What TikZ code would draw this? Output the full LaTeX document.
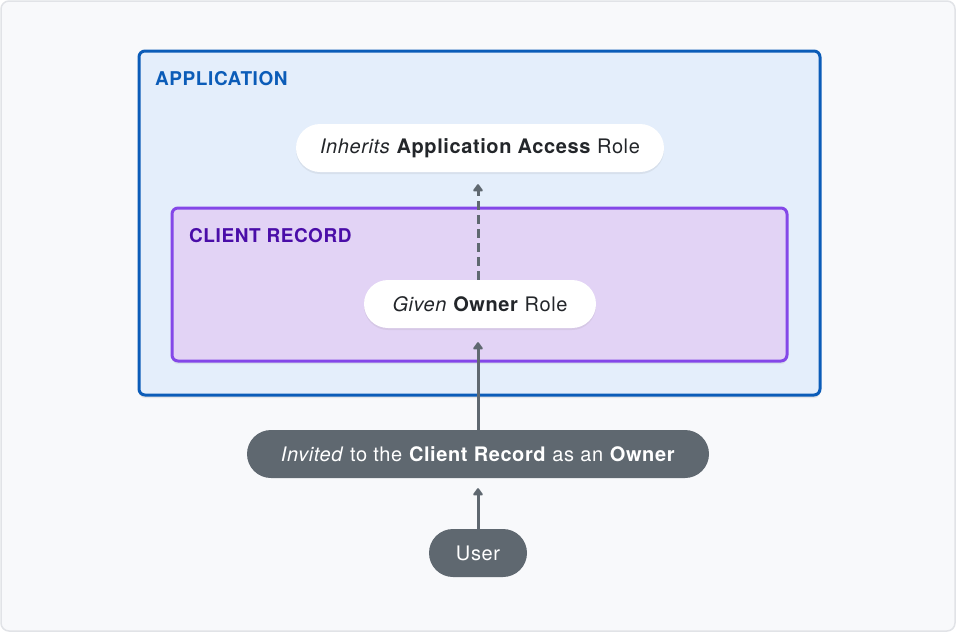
\documentclass[tikz,border=0pt]{standalone}
\usepackage{fontspec}
\setmainfont{TeX Gyre Heros}[LetterSpace=3]
\usetikzlibrary{arrows.meta,shadows}
\definecolor{pagebg}{HTML}{F8F9FB}
\definecolor{pageline}{HTML}{E1E3E7}
\definecolor{appline}{HTML}{0B5CB8}
\definecolor{appfill}{HTML}{E4EEFB}
\definecolor{recline}{HTML}{8447E8}
\definecolor{recfill}{HTML}{E2D3F5}
\definecolor{rectext}{HTML}{4A0DA8}
\definecolor{slate}{HTML}{5F6870}
\definecolor{ink}{HTML}{23262A}
\begin{document}
\begin{tikzpicture}[x=1pt,y=-1pt,
  font=\fontsize{20}{24}\selectfont,
  pill/.style={rectangle,rounded corners=24pt,minimum height=48pt,inner sep=0pt},
  lightpill/.style={pill,fill=white,text=ink,drop shadow={opacity=0.12,shadow xshift=0pt,shadow yshift=-2pt}},
  darkpill/.style={pill,fill=slate,text=white},
  boxlabel/.style={anchor=base west,inner sep=0pt,font=\fontsize{19}{22}\selectfont\bfseries},
  link/.style={slate,line width=3pt,-{Triangle[length=8pt,width=11pt,round]}}]
\useasboundingbox (0,0) rectangle (956,632);
\draw[pageline,fill=pagebg,line width=1.5pt,rounded corners=8pt] (1,1) rectangle (955,631);
% application
\draw[appline,fill=appfill,line width=3pt,rounded corners=6pt,
  drop shadow={opacity=0.15,shadow xshift=0pt,shadow yshift=-3pt}] (139,51) rectangle (820,395);
\node[boxlabel,text=appline] (applabel) at (155,85) {APPLICATION};
\node[lightpill,minimum width=368pt] (inherits) at (480,148) {\textit{Inherits} \textbf{Application Access} Role};
% client record
\draw[recline,fill=recfill,line width=3pt,rounded corners=6pt,
  drop shadow={opacity=0.12,shadow xshift=0pt,shadow yshift=-3pt}] (172,208) rectangle (787,361);
\node[boxlabel,text=rectext] (reclabel) at (189,242) {CLIENT RECORD};
\node[lightpill,minimum width=232pt] (given) at (480,304) {\textit{Given} \textbf{Owner} Role};
\draw[link,dashed,dash pattern=on 9pt off 5pt,shorten >=12pt] (given.north -| 478,0) -- (inherits.south -| 478,0);
% outside
\node[darkpill,minimum width=462pt] (invited) at (478,454) {\textit{Invited} to the \textbf{Client Record} as an \textbf{Owner}};
\draw[link,shorten >=14pt] (invited.north) -- (given.south -| invited.north);
\node[darkpill,minimum width=98pt] (user) at (478,553) {User};
\draw[link,shorten >=10pt] (user.north) -- (invited.south);
\end{tikzpicture}
\end{document}
